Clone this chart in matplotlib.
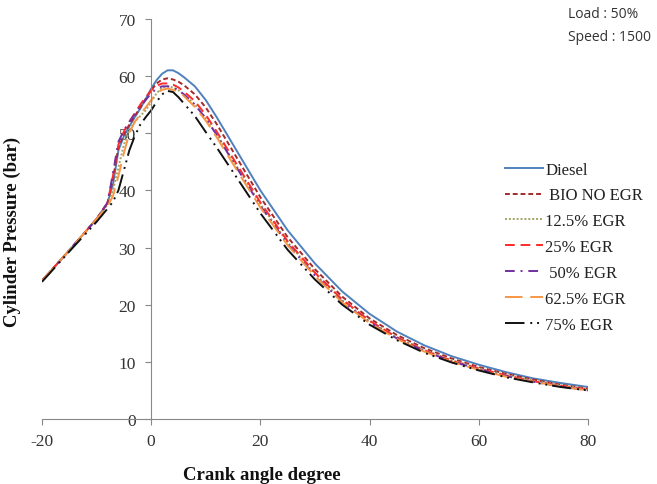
import numpy as np
import matplotlib
matplotlib.use("Agg")
import matplotlib.pyplot as plt

plt.rcParams["axes.unicode_minus"] = False

# crank angle grid (deg)
angle = [-20, -15, -10, -8, -7, -6, -5, -4, -3, -2, -1, 0, 1, 2, 3, 4, 5, 6,
         8, 10, 12, 15, 20, 25, 30, 35, 40, 45, 50, 55, 60, 65, 70, 75, 80]

diesel = [24.2, 29.5, 35.0, 37.8, 41.0, 47.0, 49.5, 51.2, 52.8, 54.3, 56.0, 57.8,
          59.3, 60.4, 61.0, 61.0, 60.5, 59.8, 58.2, 55.8, 52.8, 48.0, 40.0, 33.0,
          27.2, 22.3, 18.4, 15.3, 12.9, 11.0, 9.5, 8.2, 7.1, 6.3, 5.6]
bio_no_egr = [24.2, 29.5, 35.0, 37.8, 42.0, 47.5, 49.8, 51.5, 53.0, 54.5, 56.0, 57.5,
              58.7, 59.4, 59.6, 59.4, 59.0, 58.4, 56.8, 54.5, 51.6, 46.8, 38.8, 31.8,
              26.2, 21.4, 17.6, 14.7, 12.4, 10.6, 9.1, 7.9, 6.9, 6.0, 5.3]
egr_12_5 = [24.2, 29.5, 35.0, 37.5, 40.0, 44.0, 48.0, 50.5, 52.0, 53.0, 54.0, 55.5,
            57.0, 58.0, 58.2, 58.0, 57.5, 56.8, 55.0, 52.6, 49.8, 45.2, 37.6, 30.9,
            25.4, 20.8, 17.1, 14.3, 12.1, 10.3, 8.9, 7.7, 6.7, 5.9, 5.2]
egr_25 = [24.2, 29.5, 35.0, 37.8, 42.5, 48.0, 50.3, 52.0, 53.5, 55.0, 56.3, 57.5,
          58.3, 58.7, 58.7, 58.5, 58.0, 57.3, 55.6, 53.2, 50.3, 45.6, 37.9, 31.1,
          25.6, 20.9, 17.2, 14.3, 12.0, 10.2, 8.8, 7.6, 6.6, 5.8, 5.1]
egr_50 = [24.2, 29.5, 35.0, 37.8, 43.0, 48.5, 50.5, 52.0, 53.3, 54.6, 55.8, 57.0,
          57.8, 58.2, 58.2, 58.0, 57.5, 56.8, 55.0, 52.6, 49.7, 45.0, 37.3, 30.6,
          25.1, 20.5, 16.9, 14.1, 11.9, 10.1, 8.7, 7.5, 6.5, 5.7, 5.0]
egr_62_5 = [24.2, 29.5, 35.0, 37.2, 39.0, 42.5, 46.5, 50.0, 52.0, 53.3, 54.5, 55.8,
            57.0, 57.6, 57.8, 57.6, 57.2, 56.5, 54.6, 52.2, 49.3, 44.6, 37.0, 30.4,
            25.0, 20.4, 16.8, 14.0, 11.8, 10.0, 8.6, 7.4, 6.5, 5.7, 5.0]
egr_75 = [24.0, 29.3, 34.5, 36.8, 38.0, 40.0, 43.5, 47.0, 49.5, 51.5, 52.8, 54.0,
          55.5, 56.8, 57.4, 57.2, 56.3, 55.2, 53.0, 50.2, 47.5, 43.2, 36.0, 29.6,
          24.4, 20.0, 16.5, 13.8, 11.6, 9.9, 8.5, 7.3, 6.4, 5.6, 5.0]

labels = ["Diesel", " BIO NO EGR", "12.5% EGR", "25% EGR", " 50% EGR",
          "62.5% EGR", "75% EGR"]
series = [diesel, bio_no_egr, egr_12_5, egr_25, egr_50, egr_62_5, egr_75]
colors = ["#4F81BD", "#A52A2A", "#A3A366", "#FF2A2A", "#7030A0", "#F79646", "#111111"]
dashes = [None, (2.5, 1.5), (1, 1), (5, 3), (5, 3, 1, 3), (9, 4), (10, 3, 1, 2.5, 1, 2.5)]

fig = plt.figure(figsize=(6.57, 4.85), dpi=100)
ax = fig.add_axes([0.0639, 0.134, 0.831, 0.825])

for y, lab, c, d in zip(series, labels, colors, dashes):
    line, = ax.plot(angle, y, color=c, lw=1.4, label=lab)
    if d is not None:
        line.set_dashes(d)

ax.set_xlim(-20, 80)
ax.set_ylim(0, 70)
ax.set_xticks([-20, 0, 20, 40, 60, 80])
ax.set_yticks(range(0, 71, 10))

for s in ["top", "right"]:
    ax.spines[s].set_visible(False)
ax.spines["left"].set_position(("data", 0))
ax.spines["bottom"].set_position(("data", 0))
ax.spines["left"].set_color("#888888")
ax.spines["bottom"].set_color("#888888")
ax.tick_params(axis="both", colors="#888888", length=4, width=0.8,
               labelcolor="#333333", labelsize=12.5)
ax.tick_params(axis="y", pad=7)
ax.tick_params(axis="x", pad=6)
for t in ax.get_xticklabels() + ax.get_yticklabels():
    t.set_family("Liberation Serif")

leg = ax.legend(loc="upper left", bbox_to_anchor=(0.835, 0.66), frameon=False,
                prop={"family": "Liberation Serif", "size": 12},
                handlelength=2.3, handletextpad=0.15, labelspacing=0.59,
                borderaxespad=0)
for t in leg.get_texts():
    t.set_color("#222222")

fig.text(12 / 657, 1 - 232 / 485, "Cylinder Pressure (bar)", rotation=90,
         ha="center", va="center", family="Liberation Serif", weight="bold",
         size=13.5, color="#111111")
fig.text(262 / 657, 1 - 476 / 485, "Crank angle degree", ha="center", va="center",
         family="Liberation Serif", weight="bold", size=13.5, color="#111111")
fig.text(568 / 657, 1 - 15 / 485, "Load : 50%", ha="left", va="center",
         family="Open Sans", size=10, color="#333333")
fig.text(568 / 657, 1 - 38 / 485, "Speed : 1500", ha="left", va="center",
         family="Open Sans", size=10, color="#333333")

fig.savefig("out.png", dpi=100)
